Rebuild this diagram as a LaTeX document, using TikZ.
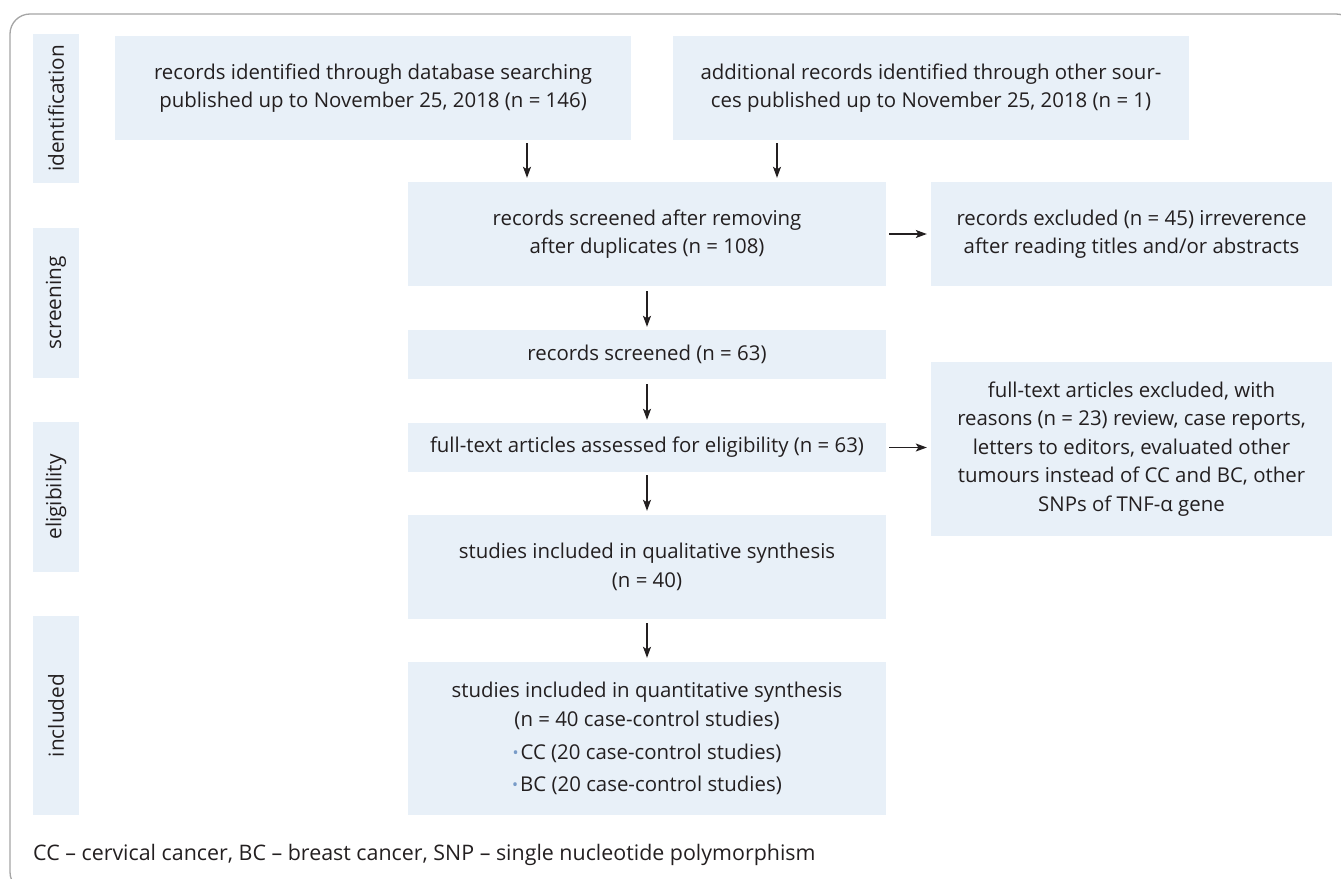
\documentclass[tikz,border=0pt]{standalone}
\usepackage{fontspec}
\setmainfont{Open Sans}
\usetikzlibrary{arrows.meta}
\definecolor{boxfill}{RGB}{232,240,248}
\definecolor{txt}{RGB}{35,31,32}
\definecolor{framecol}{RGB}{165,165,165}
\definecolor{bulletcol}{RGB}{120,155,200}
\newcommand{\bul}{\raisebox{0.5pt}{\color{bulletcol}\fontsize{16}{16}\selectfont •}\hspace{2pt}}
\begin{document}
\begin{tikzpicture}[x=1pt,y=-1pt,
  box/.style={fill=boxfill, inner sep=0pt, align=center, text=txt,
    font=\fontsize{20.4}{28.5}\selectfont},
  phase/.style={fill=boxfill, inner sep=0pt, rotate=90, text=txt,
    minimum height=46pt, font=\fontsize{20.8}{24}\selectfont},
  arr/.style={draw=txt, line width=1.2pt, -{Stealth[length=11pt,width=8pt,inset=2.5pt]}},
  foot/.style={text=txt, inner sep=0pt, font=\fontsize{21.4}{24}\selectfont}]
\useasboundingbox (0,0) rectangle (1341,878);
\begin{scope}
\clip (0,0) rectangle (1341,878);
\draw[framecol, line width=1.3pt, rounded corners=20pt] (10,14) rectangle (1356,892);
\end{scope}

% phase labels
\node[phase, minimum width=149pt] (p1) at (56,108.5) {identification};
\node[phase, minimum width=150pt] (p2) at (56,303) {screening};
\node[phase, minimum width=150pt] (p3) at (56,497) {eligibility};
\node[phase, minimum width=199pt] (p4) at (56,715.5) {included};

% boxes
\node[box, minimum width=516pt, minimum height=104pt] (b1) at (373,88)
  {records identified through database searching\\published up to November 25, 2018 (n = 146)};
\node[box, minimum width=516pt, minimum height=104pt] (b2) at (931,88)
  {additional records identified through other sour-\\ces published up to November 25, 2018 (n = 1)};
\node[box, minimum width=478pt, minimum height=104pt] (b3) at (647,234)
  {records screened after removing\\after duplicates (n = 108)};
\node[box, minimum width=401pt, minimum height=104pt] (b4) at (1131.5,234)
  {records excluded (n = 45) irreverence\\after reading titles and/or abstracts};
\node[box, minimum width=478pt, minimum height=49pt] (b5) at (647,354.5)
  {records screened (n = 63)};
\node[box, minimum width=478pt, minimum height=49pt] (b6) at (647,447.5)
  {full-text articles assessed for eligibility (n = 63)};
\node[box, minimum width=401pt, minimum height=174pt] (b7) at (1131.5,449)
  {full-text articles excluded, with\\reasons (n = 23) review, case reports,\\letters to editors, evaluated other\\tumours instead of CC and BC, other\\SNPs of TNF-α gene};
\node[box, minimum width=478pt, minimum height=104pt] (b8) at (647,567)
  {studies included in qualitative synthesis\\(n = 40)};
\node[box, minimum width=478pt, minimum height=153pt] (b9) at (647,738.5)
  {studies included in quantitative synthesis\\(n = 40 case-control studies)\\[4.5pt]
   \bul CC (20 case-control studies)\\[3.5pt]
   \bul BC (20 case-control studies)};

% footer
\node[foot, anchor=base west] (ft) at (33,860)
  {CC – cervical cancer, BC – breast cancer, SNP – single nucleotide polymorphism};

% connectors
\coordinate (c1) at (527,0);
\coordinate (c2) at (777,0);
\draw[arr, shorten <=3pt, shorten >=4pt] (b1.south -| c1) -- (b3.north -| c1);
\draw[arr, shorten <=3pt, shorten >=4pt] (b2.south -| c2) -- (b3.north -| c2);
\draw[arr, shorten <=3pt, shorten >=4pt] (b3.east) -- (b4.west);
\draw[arr, shorten <=5pt, shorten >=3pt] (b3.south) -- (b5.north);
\draw[arr, shorten <=5pt, shorten >=3pt] (b5.south) -- (b6.north);
\draw[arr, shorten <=3pt, shorten >=4pt] (b6.east) -- (b6.east -| b7.west);
\draw[arr, shorten <=3pt, shorten >=4pt] (b6.south) -- (b8.north);
\draw[arr, shorten <=4pt, shorten >=4pt] (b8.south) -- (b9.north);
\end{tikzpicture}
\end{document}
